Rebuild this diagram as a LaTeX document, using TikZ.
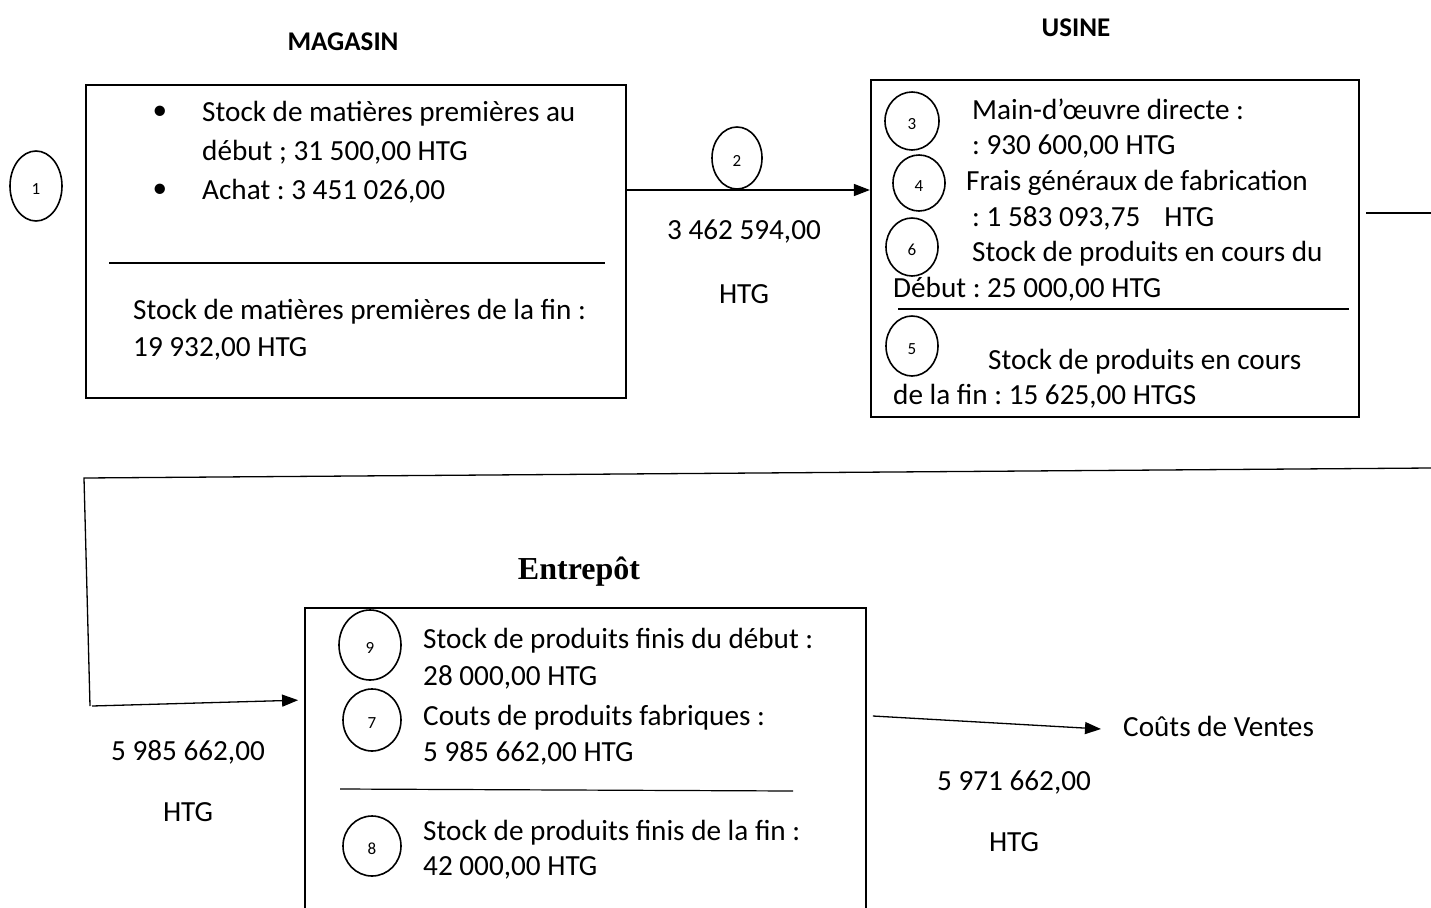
\documentclass[tikz,border=0pt]{standalone}
\usepackage{fontspec}
\setmainfont{Carlito}
\newfontfamily\tnr{Liberation Serif}
\usetikzlibrary{arrows.meta,shapes.geometric}
\frenchspacing
\begin{document}
\begin{tikzpicture}[x=1pt,y=-1pt,
  box/.style={draw, line width=1.8pt, rectangle, inner sep=0},
  sep/.style={line width=1.2pt},
  txt/.style={font=\fontsize{29.2}{35}\selectfont, inner sep=0, anchor=base west},
  ctxt/.style={font=\fontsize{29.2}{35}\selectfont, inner sep=0, anchor=base},
  num/.style={draw, ellipse, line width=1.6pt, inner sep=0, text height=17pt, text depth=0pt, font=\fontsize{17}{20}\selectfont},
  conn/.style={line width=1.3pt},
  arr/.style={conn, -{Triangle[length=16pt,width=12pt]}},
  title/.style={font=\bfseries\fontsize{27}{32}\selectfont, inner sep=0, anchor=base},
]
\useasboundingbox (0,0) rectangle (1431,907);
\fill[white] (0,0) rectangle (1431,907);

% titles
\node[title] (tmag) at (343,51) {MAGASIN};
\node[title] (tusi) at (1076,37) {USINE};
\node[font=\tnr\bfseries\fontsize{32}{36}\selectfont, inner sep=0, anchor=base] (tent) at (579,579) {Entrepôt};

% boxes
\node[box, minimum width=540pt, minimum height=313pt] (m) at (356,241.5) {};
\node[box, line width=2.2pt, minimum width=488pt, minimum height=337pt] (u) at (1115,248.5) {};
\node[box, minimum width=561pt, minimum height=332pt] (e) at (585.5,774) {};

% box 1 content
\node[ctxt, anchor=center] (b1) at (160,113) {•};
\node[txt] (m1) at (202,121) {Stock de matières premières au};
\node[txt] (m2) at (202,160) {début ; 31 500,00 HTG};
\node[ctxt, anchor=center] (b2) at (160,191) {•};
\node[txt] (m3) at (202,199) {Achat : 3 451 026,00};
\coordinate (ms1) at (109,263);
\coordinate (ms2) at (605,263);
\draw[sep] (ms1) -- (ms2);
\node[txt] (m4) at (133,319) {Stock de matières premières de la fin :};
\node[txt] (m5) at (133,356) {19 932,00 HTG};
\node[num, minimum width=52pt, minimum height=70pt] (n1) at (36,186) {1};

% box 2 content
\node[num, minimum width=54pt, minimum height=58pt] (n3) at (912,121) {3};
\node[num, minimum width=52pt, minimum height=56pt] (n4) at (919,183) {4};
\node[num, minimum width=52pt, minimum height=58pt] (n6) at (912,247) {6};
\node[num, minimum width=52pt, minimum height=60pt] (n5) at (912,346) {5};
\node[txt] (u1) at (972,119) {Main-d’œuvre directe :};
\node[txt] (u2) at (972,154) {: 930 600,00 HTG};
\node[txt] (u3) at (966,190) {Frais généraux de fabrication};
\node[txt] (u4) at (972,226) {: 1 583 093,75\hspace{24pt}HTG};
\node[txt] (u5) at (972,261) {Stock de produits en cours du};
\node[txt] (u6) at (893,297) {Début : 25 000,00 HTG};
\coordinate (us1) at (898,309);
\coordinate (us2) at (1349,309);
\draw[sep] (us1) -- (us2);
\node[txt] (u7) at (988,369) {Stock de produits en cours};
\node[txt] (u8) at (893,404) {de la fin : 15 625,00 HTGS};

% box 3 content
\node[num, minimum width=62pt, minimum height=70pt] (n9) at (370,645) {9};
\node[num, minimum width=58pt, minimum height=62pt] (n7) at (372,720) {7};
\node[num, minimum width=58pt, minimum height=60pt] (n8) at (372,846) {8};
\node[txt] (e1) at (423,648) {Stock de produits finis du début :};
\node[txt] (e2) at (423,685) {28 000,00 HTG};
\node[txt] (e3) at (423,725) {Couts de produits fabriques :};
\node[txt] (e4) at (423,761) {5 985 662,00 HTG};
\coordinate (es1) at (340,789);
\coordinate (es2) at (793,791);
\draw[sep] (es1) -- (es2);
\node[txt] (e5) at (423,840) {Stock de produits finis de la fin :};
\node[txt] (e6) at (423,875) {42 000,00 HTG};

% connector 1 -> 2
\node[num, minimum width=50pt, minimum height=62pt] (n2) at (737,158) {2};
\draw[arr] (m.east |- 0,190) -- (u.west |- 0,190);
\node[ctxt] (v1) at (744,239) {3 462 594,00};
\node[ctxt] (v1h) at (744,303) {HTG};

% connector 2 -> 3
\coordinate (o1) at (1366,213);
\coordinate (o2) at (1431,213);
\coordinate (o3) at (1431,468);
\coordinate (o4) at (84,478);
\coordinate (o5) at (90,706);
\coordinate (o6) at (92,706);
\draw[conn] (o1) -- (o2);
\draw[conn] (o3) -- (o4) -- (o5);
\draw[arr, shorten >=6pt] (o6) -- (e.west |- 0,700);
\node[ctxt] (v2) at (188,760) {5 985 662,00};
\node[ctxt] (v2h) at (188,821) {HTG};

% connector 3 -> ventes
\node[txt] (cv) at (1123,736) {Coûts de Ventes};
\coordinate (cva) at (1101,729);
\draw[arr] ([xshift=6pt]e.east |- 0,716) -- (cva);
\node[ctxt] (v3) at (1014,790) {5 971 662,00};
\node[ctxt] (v3h) at (1014,851) {HTG};
\end{tikzpicture}
\end{document}
